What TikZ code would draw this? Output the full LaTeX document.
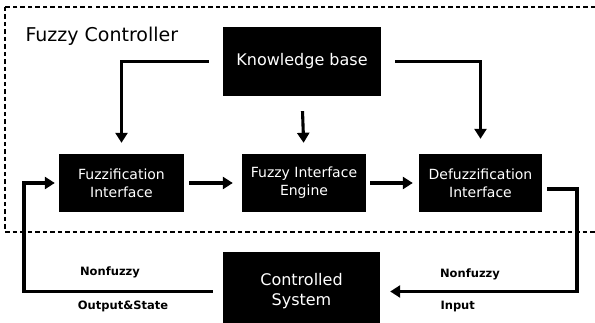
\documentclass[tikz,border=0pt]{standalone}
\usepackage{fontspec}
\setmainfont{DejaVu Sans}
\usepackage{tikz}
\usetikzlibrary{arrows.meta}
\usetikzlibrary{calc}

\tikzset{
    block/.style={fill=black, text=white, inner sep=0pt, align=center, font=\fontsize{14}{18}\selectfont},
    conn/.style={line width=3.1pt, -{Triangle[length=10pt,width=12pt]}},
    sig/.style={font=\bfseries\fontsize{11.5}{13}\selectfont},
}

\begin{document}
\begin{tikzpicture}[x=1pt, y=-1pt]
    \useasboundingbox (0,0) rectangle (595,323);
    \draw[line width=1.3pt, dash pattern=on 4.5pt off 3pt] (5,7) rectangle (615,232);
    \node[anchor=base west, font=\fontsize{19}{22}\selectfont] (title) at (22,42) {Fuzzy Controller};
    \node[block, minimum width=158pt, minimum height=69pt, font=\fontsize{16}{20}\selectfont] (kb) at (302,61.5) {Knowledge base};
    \node[block, minimum width=125pt, minimum height=58pt] (fuz) at (121.5,183) {Fuzzification\\Interface};
    \node[block, minimum width=124pt, minimum height=58pt] (eng) at (304,183) {Fuzzy Interface\\Engine};
    \node[block, minimum width=123pt, minimum height=58pt] (def) at (480.5,183) {Defuzzification\\Interface};
    \node[block, minimum width=157pt, minimum height=79pt, font=\fontsize{16}{20}\selectfont] (sys) at (301.5,291.5) {Controlled\\System};
    \coordinate (rc) at (577,0);
    \coordinate (lc) at (24,0);
    % knowledge base to the three blocks
    \draw[conn, shorten <=14pt, shorten >=11pt] (kb.west) -| (fuz.north);
    \draw[conn, shorten <=15pt, shorten >=11pt] (kb.south) -- (eng.north);
    \draw[conn, shorten <=14pt, shorten >=15pt] (kb.east) -| (def.north);
    % inside the controller
    \draw[conn, shorten <=5pt, shorten >=9pt] (fuz.east) -- (eng.west);
    \draw[conn, shorten <=4pt, shorten >=6pt] (eng.east) -- (def.west);
    % loop through the plant
    \draw[conn, shorten <=5pt, shorten >=10pt] ([yshift=-6pt]def.east) -| (rc |- sys.east) -- (sys.east);
    \draw[conn, shorten <=10pt, shorten >=4pt] (sys.west) -| (lc |- fuz.west) -- (fuz.west);
    \node[sig] (nfl) at (110,272) {Nonfuzzy};
    \node[sig] (osl) at (123,306) {Output\&State};
    \node[sig] (nfr) at (470,274) {Nonfuzzy};
    \node[sig, anchor=west] (inr) at (437,307) {Input};
\end{tikzpicture}
\end{document}
